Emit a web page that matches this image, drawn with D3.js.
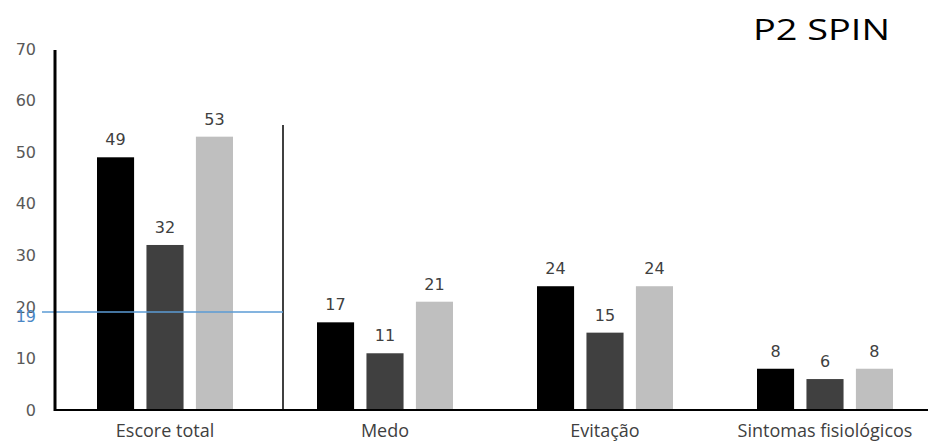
<!DOCTYPE html>
<html>
<head>
<meta charset="utf-8">
<script src="https://cdn.jsdelivr.net/npm/d3@7"></script>
<style>
  body { margin: 0; background: #fff; }
  svg { display: block; }
</style>
</head>
<body>
<svg id="chart" width="928" height="443"></svg>
<script>
// SPIN scores per domain, three measurements
const categories = ["Escore total", "Medo", "Evitação", "Sintomas fisiológicos"];
const series1 = [49, 17, 24, 8];
const series2 = [32, 11, 15, 6];
const series3 = [53, 21, 24, 8];
const yTicks = [0, 10, 20, 30, 40, 50, 60, 70];
const cutoff = 19;

const seriesList = [series1, series2, series3];
const colors = ["#000000", "#404040", "#bfbfbf"];
const numFont = "'DejaVu Sans', Verdana, sans-serif";
const textFont = "'Open Sans', 'Noto Sans', sans-serif";

const svg = d3.select("#chart");
const x = d3.scaleBand().domain(categories).range([55, 935]).paddingInner(0).paddingOuter(0);
const y = d3.scaleLinear().domain([0, 70]).range([410, 49]);
const inner = d3.scaleBand().domain([0, 1, 2]).range([42, 178]).paddingInner(0.25);

// y tick labels
svg.append("g").selectAll("text").data(yTicks).join("text")
  .attr("x", 36).attr("y", d => y(d)).attr("dy", "0.36em")
  .attr("text-anchor", "end")
  .attr("font-family", numFont).attr("font-size", 16).attr("fill", "#595959")
  .text(d => d);

// bars
categories.forEach((c, ci) => {
  const g = svg.append("g").attr("transform", `translate(${x(c)},0)`);
  seriesList.forEach((s, si) => {
    g.append("rect")
      .attr("x", inner(si)).attr("width", inner.bandwidth())
      .attr("y", y(s[ci])).attr("height", y(0) - y(s[ci]))
      .attr("fill", colors[si]);
    g.append("text")
      .attr("x", inner(si) + inner.bandwidth() / 2).attr("y", y(s[ci]) - 12)
      .attr("text-anchor", "middle")
      .attr("font-family", numFont).attr("font-size", 16).attr("fill", "#404040")
      .text(s[ci]);
  });
});

// separator between total score and subscales
const sepX = x(categories[1]) + 8;
svg.append("line").attr("x1", sepX).attr("x2", sepX)
  .attr("y1", 125).attr("y2", y(0) - 1)
  .attr("stroke", "#000").attr("stroke-width", 1.5);

// cutoff line
svg.append("line").attr("x1", 42).attr("x2", sepX)
  .attr("y1", y(cutoff)).attr("y2", y(cutoff))
  .attr("stroke", "#5b9bd5").attr("stroke-width", 1.5);
svg.append("text").attr("x", 36).attr("y", y(cutoff) + 4).attr("dy", "0.36em")
  .attr("text-anchor", "end")
  .attr("font-family", numFont).attr("font-size", 16).attr("fill", "#4a86c5")
  .text(cutoff);

// axes
svg.append("line").attr("x1", 55).attr("x2", 928).attr("y1", y(0)).attr("y2", y(0))
  .attr("stroke", "#000").attr("stroke-width", 2);
svg.append("line").attr("x1", 55).attr("x2", 55).attr("y1", 50).attr("y2", y(0) + 1)
  .attr("stroke", "#000").attr("stroke-width", 3);

// category labels
svg.append("g").selectAll("text").data(categories).join("text")
  .attr("x", d => x(d) + x.bandwidth() / 2).attr("y", 437)
  .attr("text-anchor", "middle")
  .attr("font-family", textFont).attr("font-size", 18).attr("fill", "#404040")
  .text(d => d);

// title
svg.append("text").attr("x", 753).attr("y", 40)
  .attr("font-family", textFont).attr("font-size", 30).attr("fill", "#000")
  .attr("textLength", 137).attr("lengthAdjust", "spacingAndGlyphs")
  .text("P2 SPIN");
</script>
</body>
</html>
